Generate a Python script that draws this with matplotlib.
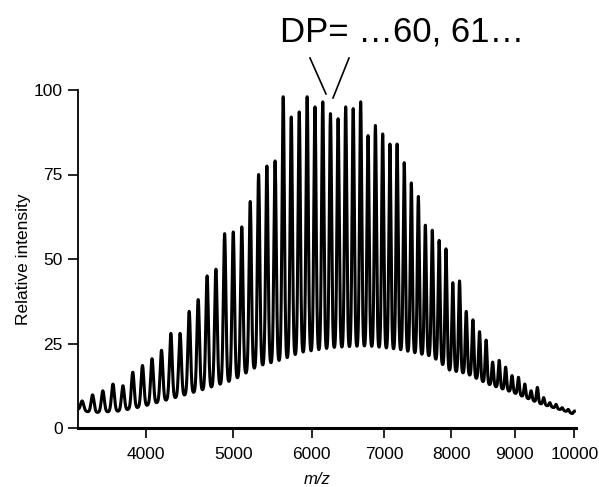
import numpy as np
import matplotlib
matplotlib.use("Agg")
import matplotlib.pyplot as plt

plt.rcParams['font.family'] = ['Liberation Sans', 'DejaVu Sans']

# degree of polymerisation of each resolved peak, and its height
dp = list(range(32, 97))
peak_height = [8, 9.8, 11, 13, 12.5, 16.5, 18.5, 20.5, 23, 28,
               28, 34.5, 38, 45, 47, 57.5, 58, 59.5, 67, 75,
               77.5, 79, 98, 92, 93.5, 98, 95, 96.5, 93, 91.5,
               95, 94.5, 96.5, 86.5, 89.5, 87, 84, 84, 78.5, 72.5,
               68.5, 60, 58.5, 55.5, 53, 43, 43.5, 34.5, 32, 28.5,
               26, 19.5, 20, 18, 15.5, 15, 13, 11, 12, 9,
               7.5, 7, 6, 5.5, 5]
repeat_mass = 104.15
end_mass = 2.0

# lower envelope of the spectrum (m/z, relative intensity)
floor_mz = [3294, 3434, 3725, 3958, 4320, 4610, 5003, 5301, 5627, 5846,
            6287, 6758, 7212, 7710, 7970, 8237, 8565, 8974, 9422, 9880, 10000]
floor_val = [5.5, 4.5, 5, 6.3, 8.9, 11, 14, 18, 20, 22,
             23.5, 24, 23, 21, 17, 16, 13, 10.5, 7.2, 4.8, 4]

peak_mz = np.array(dp) * repeat_mass + end_mass
mz = np.linspace(3294, 10000, 30000)
trace = np.interp(mz, floor_mz, floor_val)
for m, h in zip(peak_mz, peak_height):
    rise = h - np.interp(m, floor_mz, floor_val)
    trace += rise * np.exp(-0.5 * ((mz - m) / 15.0) ** 2)

fig = plt.figure(figsize=(5.99, 4.87), dpi=100)
ax = fig.add_axes([78 / 599, 59 / 487, 498 / 599, 338 / 487])
ax.set_xscale('function', functions=(np.sqrt, np.square))
ax.plot(mz, trace, color='black', lw=2.2)

ax.set_xlim(3294, 10028)
ax.set_ylim(0, 100)
ax.set_xticks([4000, 5000, 6000, 7000, 8000, 9000, 10000])
ax.set_xticklabels(['4000', '5000', '6000', '7000', '8000', '9000', '10000'])
ax.set_yticks([0, 25, 50, 75, 100])
ax.tick_params(axis='x', direction='out', length=7, width=1.2, pad=7, labelsize=12.5)
ax.tick_params(axis='y', direction='out', length=7, width=1.2, pad=4, labelsize=12.5)
for s in ['top', 'right']:
    ax.spines[s].set_visible(False)
ax.spines['bottom'].set_linewidth(2.2)
ax.spines['left'].set_linewidth(1.3)

ax.set_ylabel('Relative intensity', fontsize=12.5, labelpad=2)
ax.set_xlabel('m/z', fontsize=12, style='italic')
ax.xaxis.set_label_coords(0.48, -0.13)

fig.text(280 / 599, 1 - 42 / 487, 'DP= \u202660, 61\u2026', fontsize=25,
         ha='left', va='baseline')
# pointer lines towards the DP 60 / 61 peaks
fig.add_artist(plt.Line2D([310 / 599, 326 / 599], [1 - 58 / 487, 1 - 94 / 487],
                          color='black', lw=1.2))
fig.add_artist(plt.Line2D([349 / 599, 333 / 599], [1 - 58 / 487, 1 - 98 / 487],
                          color='black', lw=1.2))

fig.savefig('out.png', dpi=100)
